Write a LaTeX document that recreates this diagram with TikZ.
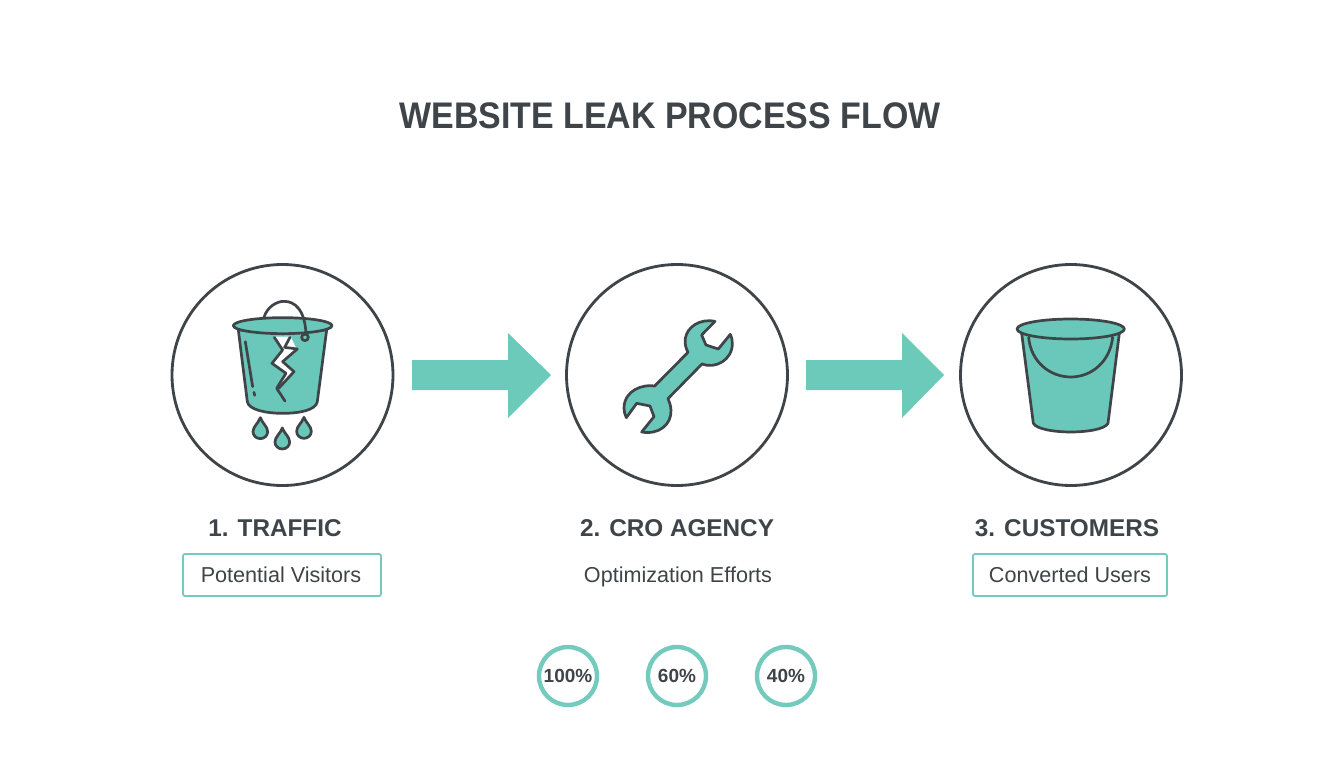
\documentclass[tikz,border=0pt]{standalone}
\usepackage{fontspec}
\setmainfont{Liberation Sans}
\definecolor{ink}{HTML}{3E4447}
\definecolor{teal1}{HTML}{6CCABA}
\definecolor{teal2}{HTML}{74CBBD}
\definecolor{inkfill}{HTML}{69C8B9}
\tikzset{
  ringnode/.style={circle,draw=ink,line width=2.8pt,minimum size=221pt,inner sep=0pt},
  bigarrow/.style={fill=teal1,draw=none},
  outl/.style={draw=ink,line width=2.7pt,line join=round,line cap=round},
  iconfill/.style={outl,fill=inkfill},
  steplabel/.style={font=\fontsize{24.3}{28}\selectfont\bfseries,text=ink,inner sep=0pt},
  sublabel/.style={font=\fontsize{21.6}{24}\selectfont,text=ink,inner sep=0pt,anchor=base},
  subbox/.style={draw=teal2,line width=1.8pt,rounded corners=2pt,fill=white},
  pct/.style={circle,draw=teal2,line width=4.4pt,minimum size=58pt,inner sep=0pt,fill=white,font=\fontsize{19}{20}\selectfont\bfseries,text=ink}
}
\begin{document}
\begin{tikzpicture}[x=1pt,y=-1pt]
\useasboundingbox (0,0) rectangle (1344,768);
\fill[white] (0,0) rectangle (1344,768);
\node[font=\fontsize{37}{40}\selectfont\bfseries,text=ink,inner sep=0pt,xscale=0.917] (title) at (670,115.5) {WEBSITE LEAK PROCESS FLOW};

\node[ringnode] (c1) at (282.5,375) {};
\node[ringnode] (c2) at (677,375) {};
\node[ringnode] (c3) at (1071,375) {};

\fill[bigarrow] (412,360) -- (508,360) -- (508,333) -- (551,375) -- (508,418) -- (508,390) -- (412,390) -- cycle;
\fill[bigarrow] (806,360) -- (902,360) -- (902,333) -- (944,375) -- (902,418) -- (902,390) -- (806,390) -- cycle;

% leaky bucket
\begin{scope}[shift={(170,260)},x=0.3333pt,y=-0.3333pt]
\draw[iconfill] (205,210) -- (232,425) .. controls (236,450) and (290,460) .. (338,460) .. controls (390,460) and (438,450) .. (442,425) -- (470,210) -- cycle;
\draw[iconfill] (338,197) ellipse (148 and 24);
\draw[outl] (282,172) .. controls (292,140) and (320,124) .. (342,124) .. controls (375,124) and (405,150) .. (408,222);
\draw[outl,fill=inkfill] (405,232) circle (10);
\draw[outl] (226,245) -- (248,380);
\draw[outl] (252,397) -- (254,406);
\fill[white] (310,230) -- (362,230) -- (380,267) -- (335,305) -- (372,335) -- (325,385) -- (348,340) -- (306,310) -- (338,270) -- cycle;
\draw[outl] (313,232) -- (338,270) -- (306,310) -- (348,340) -- (320,385) -- (345,423);
\draw[outl] (360,232) -- (344,262) -- (382,267) -- (338,305) -- (372,335) -- (326,385);
% drops
\draw[iconfill] (271,473) .. controls (265,490) and (249,500) .. (249,515) .. controls (249,527) and (259,536) .. (271,536) .. controls (283,536) and (293,527) .. (293,515) .. controls (293,500) and (277,490) .. (271,473) -- cycle;
\draw[iconfill] (337,504) .. controls (331,521) and (315,531) .. (315,546) .. controls (315,558) and (325,567) .. (337,567) .. controls (349,567) and (359,558) .. (359,546) .. controls (359,531) and (343,521) .. (337,504) -- cycle;
\draw[iconfill] (402,472) .. controls (396,489) and (380,499) .. (380,514) .. controls (380,526) and (390,535) .. (402,535) .. controls (414,535) and (424,526) .. (424,514) .. controls (424,499) and (408,489) .. (402,472) -- cycle;
\end{scope}

% wrench
\begin{scope}[shift={(600,300)},x=0.3333pt,y=-0.3333pt]
\draw[iconfill] (345,64) .. controls (300,55) and (262,80) .. (256,115) .. controls (254,135) and (258,145) .. (264,157)
 -- (164,258) .. controls (130,252) and (72,270) .. (72,325) .. controls (72,335) and (75,345) .. (79,353)
 -- (110,310) -- (150,318) -- (162,350) -- (125,396)
 .. controls (175,405) and (215,375) .. (213,330) .. controls (212,315) and (208,305) .. (204,296)
 -- (306,192) .. controls (345,208) and (398,180) .. (397,130) .. controls (397,120) and (395,110) .. (391,103)
 -- (355,147) -- (318,135) -- (305,105) -- cycle;
\end{scope}

% full bucket
\begin{scope}[shift={(1000,300)},x=0.3333pt,y=-0.3333pt]
\draw[iconfill] (65,100) -- (100,370) .. controls (110,388) and (165,396) .. (212,396) .. controls (260,396) and (315,388) .. (324,370) -- (358,100) -- cycle;
\draw[outl] (86,112) .. controls (92,185) and (150,231) .. (212,231) .. controls (275,231) and (330,185) .. (338,112);
\draw[iconfill] (212,87) ellipse (161 and 30);
\end{scope}

% labels
\node[steplabel] (l1) at (275,528) {1. TRAFFIC};
\node[steplabel] (l2) at (677,528) {2. CRO AGENCY};
\node[steplabel] (l3) at (1067,528) {3. CUSTOMERS};

\draw[subbox] (183,554) rectangle (381,596);
\draw[subbox] (973,554) rectangle (1167,596);
\node[sublabel] (s1) at (281,582) {Potential Visitors};
\node[sublabel] (s2) at (678,582) {Optimization Efforts};
\node[sublabel] (s3) at (1070,582) {Converted Users};

\node[pct] (p1) at (568,676) {100\%};
\node[pct] (p2) at (677,676) {60\%};
\node[pct] (p3) at (786,676) {40\%};
\end{tikzpicture}
\end{document}
